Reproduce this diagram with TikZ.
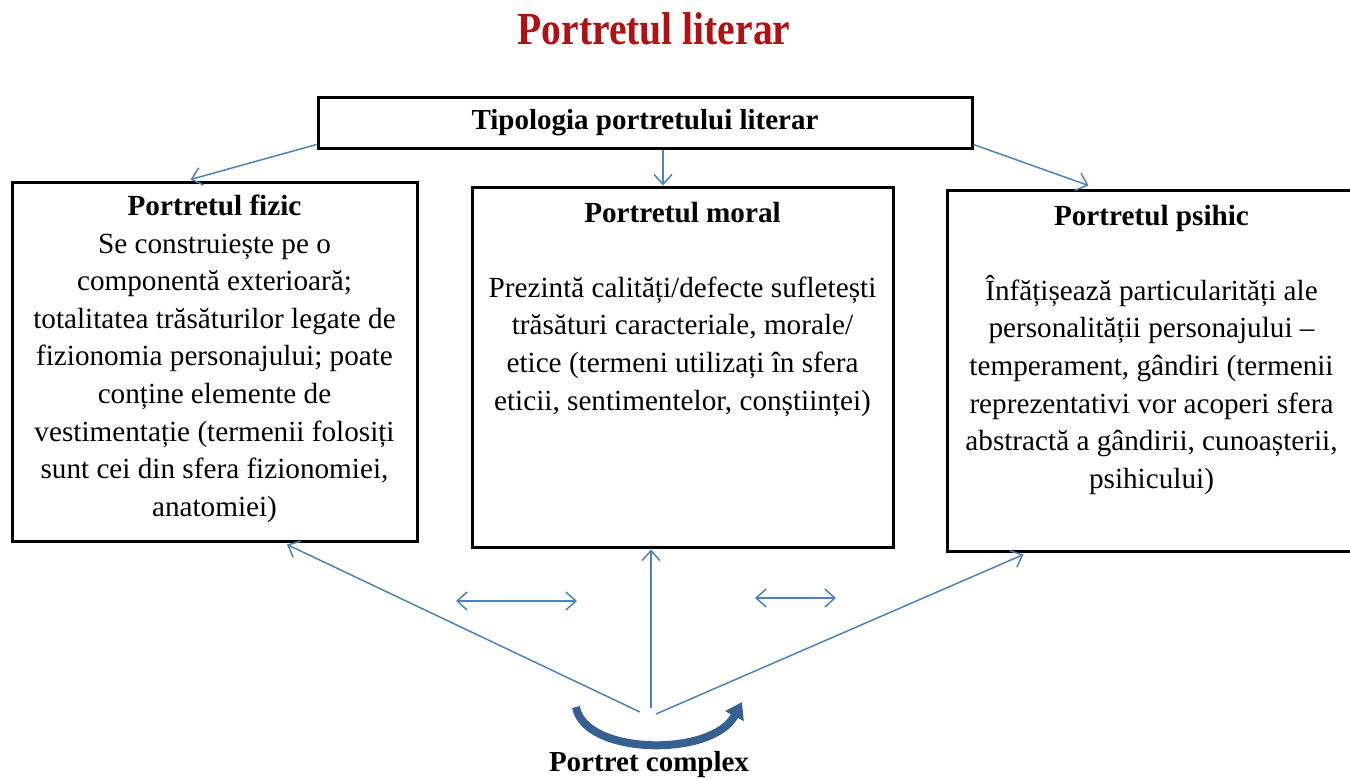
\documentclass[tikz,border=0pt]{standalone}
\usepackage{fontspec}
\setmainfont{Liberation Serif}
\usepackage{tikz}
\usetikzlibrary{arrows.meta,positioning,calc}

\definecolor{titlered}{RGB}{178,16,20}
\definecolor{linkblue}{RGB}{79,129,189}
\definecolor{swoopblue}{RGB}{54,96,146}

\begin{document}
\begin{tikzpicture}[
  x=0.5pt, y=-0.5pt,
  typebox/.style={draw, line width=1.5pt, minimum width=654*0.5pt, minimum height=51*0.5pt, inner sep=0pt},
  kindbox/.style={draw, line width=1.5pt, inner sep=0pt},
  kindtext/.style={align=center, font=\fontsize{14.6}{18.8}\selectfont, inner sep=0pt},
  link/.style={draw=linkblue, line width=0.75pt, -{Straight Barb[length=5pt,width=9pt]}},
  both/.style={draw=linkblue, line width=0.75pt, {Straight Barb[length=5pt,width=9pt]}-{Straight Barb[length=5pt,width=9pt]}}
]
\useasboundingbox (0,0) rectangle (1350,778);

% Title and top box
\node[font=\fontsize{23}{26}\selectfont\bfseries, text=titlered] (title) at (654,29) {\scalebox{0.86}[1]{Portretul literar}};
\node[typebox, font=\fontsize{14.5}{16}\selectfont\bfseries] (tipologia) at (645,122.5) {Tipologia portretului literar};

% The three kinds of portrait
\node[kindbox, minimum width=405*0.5pt, minimum height=359*0.5pt] (fizic) at (214.5,361.5) {};
\node[kindbox, minimum width=421*0.5pt, minimum height=360*0.5pt] (moral) at (682.5,367) {};
\node[kindbox, minimum width=409*0.5pt, minimum height=361*0.5pt] (psihic) at (1151.5,370.5) {};

\node[kindtext, below=7pt of fizic.north] (fizictext) {\textbf{Portretul fizic}\\
  Se construiește pe o\\ componentă exterioară;\\ totalitatea trăsăturilor legate de\\
  fizionomia personajului; poate\\ conține elemente de\\ vestimentație (termenii folosiți\\
  sunt cei din sfera fizionomiei,\\ anatomiei)};
\node[kindtext, below=8pt of moral.north] (moraltext) {\textbf{Portretul moral}\\[18.8pt]
  Prezintă calități/defecte sufletești\\ trăsături caracteriale, morale/\\
  etice (termeni utilizați în sfera\\ eticii, sentimentelor, conștiinței)};
\node[kindtext, below=8pt of psihic.north] (psihictext) {\textbf{Portretul psihic}\\[18.8pt]
  Înfățișează particularități ale\\ personalității personajului --\\
  temperament, gândiri (termenii\\ reprezentativi vor acoperi sfera\\
  abstractă a gândirii, cunoașterii,\\ psihicului)};

% Complex portrait at the bottom
\node[font=\fontsize{14.5}{16}\selectfont\bfseries] (complex) at (649,765) {Portret complex};
\coordinate (hub) at (647,712);
\coordinate (swoopstart) at (576,707);
\coordinate (swoopend) at (742,702);

% Arrows from the typology box
\draw[link] ($(tipologia.south west)+(0,-5)$) -- ($(fizic.north)+(-24,-1)$);
\draw[link] ($(tipologia.south)+(18,0)$) -- ($(moral.north)+(-19.5,0)$);
\draw[link] ($(tipologia.south east)+(0,-5)$) -- ($(psihic.north)+(-63,-3)$);

% Arrows from the complex portrait
\draw[link] ($(hub)+(-7,0)$) -- ($(fizic.south)+(72.5,2)$);
\draw[link] ($(hub)+(4,-4)$) -- ($(moral.south)+(-31.5,1)$);
\draw[link] ($(hub)+(9,2)$) -- ($(psihic.south west)+(78,2)$);

% Links between the kinds
\coordinate (fm1) at (456,601);
\coordinate (fm2) at (577,601);
\coordinate (mp1) at (755,598);
\coordinate (mp2) at (836,598);
\draw[both] (fm1) -- (fm2);
\draw[both] (mp1) -- (mp2);

% Curved arrow above the label
\draw[swoopblue, line width=4pt, -{Triangle[length=8pt,width=10pt]}]
  (swoopstart) .. controls (584,755) and (712,758) .. (swoopend);
\end{tikzpicture}
\end{document}
